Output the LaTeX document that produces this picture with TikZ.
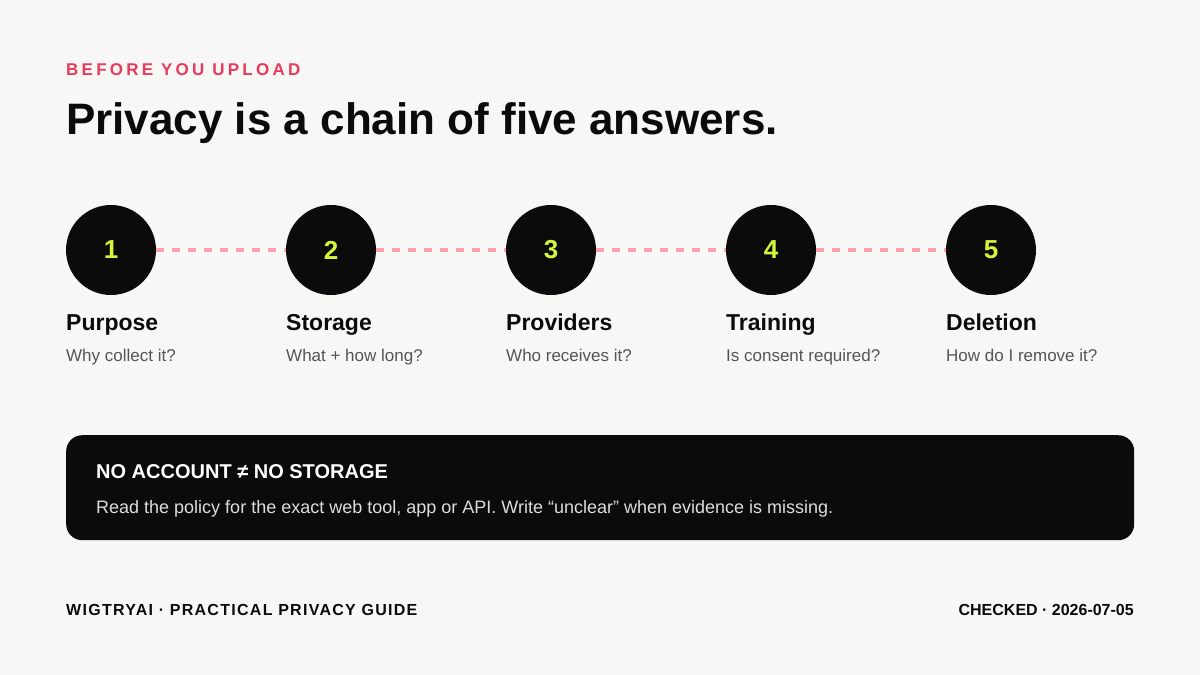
\documentclass[tikz,border=0pt]{standalone}
\usepackage{fontspec}
\setmainfont{Liberation Sans}
\newfontfamily\spacedfont[LetterSpace=19]{Liberation Sans}
\newfontfamily\footfont[LetterSpace=8]{Liberation Sans}
\usetikzlibrary{positioning}
\definecolor{bg}{HTML}{F7F7F5}
\definecolor{ink}{HTML}{0B0B0C}
\definecolor{accent}{HTML}{E83A5C}
\definecolor{lime}{HTML}{D4F53C}
\definecolor{dash}{HTML}{FFA0AB}
\definecolor{subgray}{HTML}{555555}
\definecolor{bodygray}{HTML}{DDDDDD}
\tikzset{
  stepcircle/.style={circle, fill=ink, minimum size=90pt, inner sep=0pt,
    font=\fontsize{26}{30}\selectfont\bfseries, text=lime},
  steptitle/.style={anchor=base west, inner sep=0pt, text=ink,
    font=\fontsize{23}{27}\selectfont\bfseries},
  stepsub/.style={anchor=base west, inner sep=0pt, text=subgray,
    font=\fontsize{17}{21}\selectfont},
  chain/.style={draw=dash, line width=4pt, dash pattern=on 8pt off 8pt},
  foot/.style={inner sep=0pt, text=ink, font=\fontsize{16}{20}\selectfont\bfseries},
}
\begin{document}
\begin{tikzpicture}[x=1pt, y=-1pt]
\fill[bg] (0,0) rectangle (1200,675);
\useasboundingbox (0,0) rectangle (1200,675);
\node[anchor=base west, inner sep=0pt, text=accent, font=\fontsize{17}{20}\selectfont\bfseries\spacedfont] (eyebrow) at (66,75) {BEFORE YOU UPLOAD};
\node[anchor=base west, inner sep=0pt, text=ink, font=\fontsize{44}{50}\selectfont\bfseries] (title) at (66,134) {Privacy is a chain of five answers.};
\foreach \i/\x/\t/\s in {1/111/Purpose/Why collect it?, 2/331/Storage/What + how long?, 3/551/Providers/Who receives it?, 4/771/Training/Is consent required?, 5/991/Deletion/How do I remove it?}{
  \node[stepcircle] (c\i) at (\x,250) {\i};
  \node[steptitle] (t\i) at (\x-45,330) {\t};
  \node[stepsub] (s\i) at (\x-45,361) {\s};
}
\foreach \a/\b in {1/2,2/3,3/4,4/5}{
  \draw[chain] (c\a.east) -- (c\b.west);
}
\node[draw=none, fill=ink, rounded corners=16pt, minimum width=1068pt, minimum height=105pt, inner sep=0pt, anchor=north west] (box) at (66,435) {};
\node[anchor=base west, inner sep=0pt, text=white, font=\fontsize{20}{24}\selectfont\bfseries] (boxtitle) at (96,478) {NO ACCOUNT ≠ NO STORAGE};
\node[anchor=base west, inner sep=0pt, text=bodygray, font=\fontsize{18}{22}\selectfont] (boxbody) at (96,513) {Read the policy for the exact web tool, app or API. Write “unclear” when evidence is missing.};
\node[foot, anchor=base west, font=\fontsize{16}{20}\selectfont\bfseries\footfont] (footl) at (66,615) {WIGTRYAI · PRACTICAL PRIVACY GUIDE};
\node[foot, anchor=base east] (footr) at (1134,615) {CHECKED · 2026-07-05};
\end{tikzpicture}
\end{document}
